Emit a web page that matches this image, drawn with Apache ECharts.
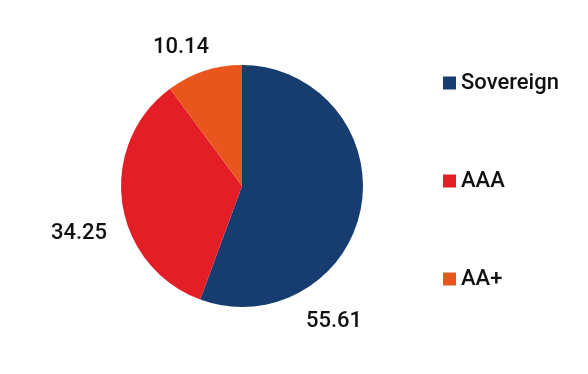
<!DOCTYPE html>
<html><head><meta charset="utf-8">
<script src="https://cdn.jsdelivr.net/npm/echarts@6/dist/echarts.min.js"></script>
<style>html,body{margin:0;padding:0;background:#fff}#c{width:588px;height:374px}</style>
</head><body><div id="c"></div>
<script>
const categories = ['Sovereign', 'AAA', 'AA+'];
const values = [55.61, 34.25, 10.14];
const colors = ['#173d70', '#e31e26', '#e8561e'];
const labelPos = [[334, 321], [79, 233], [181, 47]];

const chart = echarts.init(document.getElementById('c'), null, {renderer: 'canvas'});
chart.setOption({
  animation: false,
  legend: {
    orient: 'vertical', left: 438, top: 67, itemGap: 76,
    itemWidth: 13, itemHeight: 13, icon: 'rect',
    textStyle: {fontFamily: 'Roboto', fontSize: 22, fontWeight: 500, color: '#111'},
    data: categories
  },
  series: [{
    type: 'pie', center: [242, 186], radius: 121, startAngle: 90, clockwise: true,
    label: {show: true, position: 'outside', formatter: p => p.value.toFixed(2),
      fontFamily: 'Roboto', fontSize: 22, fontWeight: 500, color: '#111', align: 'center', verticalAlign: 'middle'},
    labelLine: {show: false},
    labelLayout: p => ({x: labelPos[p.dataIndex][0], y: labelPos[p.dataIndex][1], align: 'center', verticalAlign: 'middle'}),
    data: categories.map((n, i) => ({name: n, value: values[i], itemStyle: {color: colors[i]}}))
  }]
});
</script></body></html>
